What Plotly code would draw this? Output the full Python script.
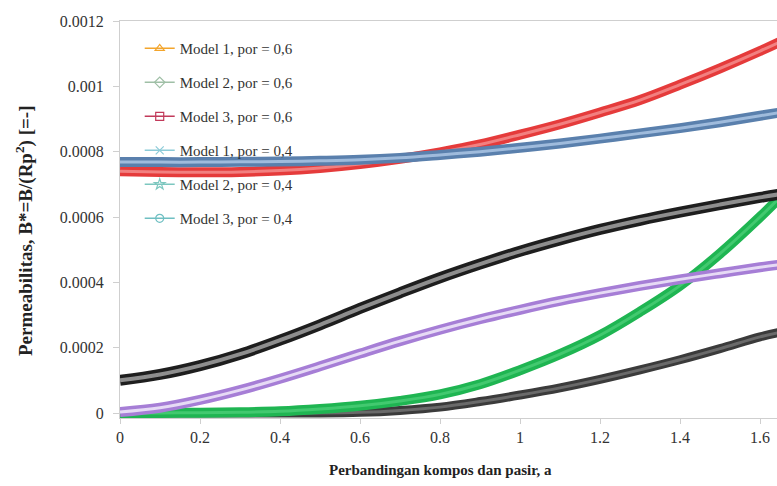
import plotly.graph_objects as go

# x values (ratio compost / sand)
a = [0.0, 0.1, 0.2, 0.3, 0.4, 0.5, 0.6, 0.7, 0.8, 0.9, 1.0, 1.1, 1.2, 1.3, 1.4, 1.5, 1.6, 1.65]

red_curve = [0.00074, 0.000738, 0.000737, 0.000738, 0.000742, 0.00075, 0.000762, 0.000778, 0.000798,
             0.000822, 0.000852, 0.000884, 0.00092, 0.000958, 0.001005, 0.001055, 0.001108, 0.001136]
blue_curve = [0.000768, 0.000768, 0.000768, 0.000769, 0.00077, 0.000772, 0.000775, 0.000781, 0.00079,
              0.0008, 0.000812, 0.000825, 0.00084, 0.000856, 0.000872, 0.00089, 0.00091, 0.00092]
black_curve = [0.0001, 0.000118, 0.000145, 0.00018, 0.000223, 0.00027, 0.00032, 0.000368, 0.000414,
               0.000456, 0.000495, 0.00053, 0.000562, 0.00059, 0.000615, 0.000638, 0.00066, 0.00067]
purple_curve = [0.000003, 0.000016, 0.00004, 0.00007, 0.000105, 0.000143, 0.000182, 0.00022, 0.000255,
                0.000287, 0.000316, 0.000343, 0.000367, 0.000389, 0.000409, 0.000428, 0.000446, 0.000454]
green_curve = [0.0, 0.0, 0.000001, 0.000002, 0.000005, 0.000012, 0.000022, 0.000037, 0.000057,
               0.000088, 0.000131, 0.00018, 0.000238, 0.00031, 0.00039, 0.000488, 0.0006, 0.00066]
gray_curve = [0.0, 0.0, 0.0, 0.0, 0.0, 0.0, 0.000002, 0.000008, 0.000018,
              0.000035, 0.000055, 0.000077, 0.000103, 0.000132, 0.000163, 0.000197, 0.000233, 0.000247]

legend_names = ["Model 1, por = 0,6", "Model 2, por = 0,6", "Model 3, por = 0,6",
                "Model 1, por = 0,4", "Model 2, por = 0,4", "Model 3, por = 0,4"]
legend_colors = ["#f3a52c", "#9fbfa6", "#c23a5a", "#8ccbd8", "#7cc7bf", "#6fbfc2"]
legend_symbols = ["triangle-up-open", "diamond-open", "square-open", "x-thin-open", "star-open", "circle-open"]

x_tickvals = [0, 0.2, 0.4, 0.6, 0.8, 1.0, 1.2, 1.4, 1.6]
x_ticktext = ["0", "0.2", "0.4", "0.6", "0.8", "1", "1.2", "1.4", "1.6"]
y_tickvals = [0, 0.0002, 0.0004, 0.0006, 0.0008, 0.001, 0.0012]
y_ticktext = ["0", "0.0002", "0.0004", "0.0006", "0.0008", "0.001", "0.0012"]

x_title = "Perbandingan kompos dan pasir, a"
y_title = "Permeabilitas, B*=B/(Rp<sup>2</sup>) [=-]"

# (values, outer colour, outer width, inner colour, inner width) in drawing order
curves = [
    (gray_curve, "#3b3b3b", 9, "#6a6a6a", 3),
    (green_curve, "#1fb552", 10, "#42c96f", 3),
    (purple_curve, "#a67ed6", 10, "#e6daf5", 3),
    (black_curve, "#1e1e1e", 11, "#8e8e8e", 4),
    (red_curve, "#e53b3b", 10, "#f28080", 3),
    (blue_curve, "#5a80ad", 10, "#9fbbdc", 3),
]

fig = go.Figure()
for vals, oc, ow, ic, iw in curves:
    fig.add_trace(go.Scatter(x=a, y=vals, mode="lines", line=dict(color=oc, width=ow, shape="spline"),
                             showlegend=False, hoverinfo="skip"))
    fig.add_trace(go.Scatter(x=a, y=vals, mode="lines", line=dict(color=ic, width=iw, shape="spline"),
                             showlegend=False, hoverinfo="skip"))

for i, (nm, col, sym) in enumerate(zip(legend_names, legend_colors, legend_symbols)):
    fig.add_trace(go.Scatter(x=[None], y=[None], name=nm, mode="lines+markers",
                             line=dict(color=col, width=1.5),
                             marker=dict(symbol=sym, size=8, color=col, line=dict(color=col, width=1.2)),
                             legendgroup="g%d" % i))

serif = "Liberation Serif, Times New Roman, serif"
fig.update_layout(
    width=777, height=486,
    margin=dict(l=120, r=0, t=21, b=68),
    paper_bgcolor="white", plot_bgcolor="white",
    font=dict(family=serif, size=15, color="#333333"),
    showlegend=True,
    legend=dict(x=0.03, y=0.972, xanchor="left", yanchor="top", bgcolor="rgba(255,255,255,0)",
                font=dict(family=serif, size=15, color="#333333"), tracegroupgap=11.5,
                itemwidth=30),
    xaxis=dict(range=[0, 1.6425], tickvals=x_tickvals, ticktext=x_ticktext, showgrid=False, zeroline=False,
               showline=True, linecolor="#cfcfcf", linewidth=1, mirror=True, ticks="outside", ticklen=5,
               tickcolor="#cfcfcf", tickfont=dict(family=serif, size=16, color="#333333"),
               automargin=False),
    yaxis=dict(range=[-0.0000153, 0.0012], tickvals=y_tickvals, ticktext=y_ticktext, showgrid=False, zeroline=False,
               showline=True, linecolor="#cfcfcf", linewidth=1, ticks="outside", ticklen=6,
               tickcolor="#cfcfcf", tickfont=dict(family=serif, size=16, color="#333333"),
               ticklabelstandoff=6, automargin=False),
    annotations=[
        dict(text="<b>" + x_title + "</b>", xref="paper", yref="paper", x=(440 - 120) / 657, y=-(470 - 418) / 397,
             xanchor="center", yanchor="middle", showarrow=False,
             font=dict(family=serif, size=15, color="#222222")),
        dict(text="<b>" + y_title + "</b>", xref="paper", yref="paper", x=-(120 - 24) / 657, y=(418 - 231) / 397,
             xanchor="center", yanchor="middle", showarrow=False, textangle=-90,
             font=dict(family=serif, size=19, color="#222222")),
    ],
)

fig.write_html("out.html", config={"displayModeBar": False},
               post_script="document.body.style.margin='0px';")
